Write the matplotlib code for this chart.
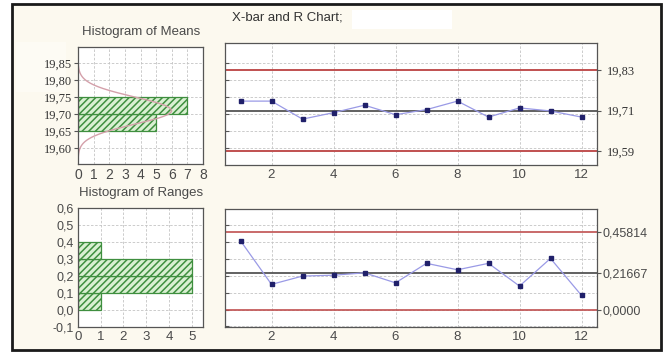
import matplotlib.pyplot as plt
import numpy as np
from matplotlib.patches import Rectangle

# samples (subgroups)
samples = np.arange(1, 13)
xbar = [19.738, 19.738, 19.685, 19.704, 19.726, 19.698, 19.713, 19.738, 19.691, 19.718, 19.709, 19.691]
ranges = [0.405, 0.148, 0.197, 0.202, 0.216, 0.157, 0.272, 0.234, 0.272, 0.138, 0.301, 0.083]

# control limits
xbar_lcl, xbar_cl, xbar_ucl = 19.59, 19.71, 19.83
r_lcl, r_cl, r_ucl = 0.0, 0.21667, 0.45814

# histogram of means (bin edges, counts)
mean_bins = [19.65, 19.70, 19.75]
mean_counts = [5, 7]
# fitted normal curve for means
curve_mu, curve_sigma = 19.71, 0.04

# histogram of ranges
range_bins = [0.0, 0.1, 0.2, 0.3, 0.4]
range_counts = [1, 5, 5, 1]

cream = '#fcf9ef'
gray_txt = '#4a4a4a'
grid_kw = dict(color='#c4c4c4', linestyle=(0, (3, 2)), linewidth=0.6)
bar_kw = dict(facecolor='#d9f0d2', edgecolor='#3f8f3f', hatch='/////', linewidth=0.9)
red = '#c05050'
plt.rcParams['hatch.linewidth'] = 1.1

W, H = 667, 353
fig = plt.figure(figsize=(6.67, 3.53), dpi=100, facecolor='white')


def fbox(x0, y0, x1, y1):
    # pixel box -> figure fraction [left, bottom, width, height]
    return [x0 / W, 1 - y1 / H, (x1 - x0) / W, (y1 - y0) / H]


# outer frame
fig.patches.append(Rectangle((12 / W, 1 - 350 / H), 649 / W, 346 / H, transform=fig.transFigure,
                             facecolor=cream, edgecolor='#1a1a1a', linewidth=2, zorder=-2))
# whited-out blobs
fig.patches.append(Rectangle((352 / W, 1 - 29 / H), 100 / W, 19 / H, transform=fig.transFigure,
                             facecolor='white', edgecolor='none', zorder=-1))
fig.patches.append(Rectangle((16 / W, 1 - 92 / H), 50 / W, 50 / H, transform=fig.transFigure,
                             facecolor='white', edgecolor='none', alpha=0.35, zorder=-1))

serif = ['Liberation Serif', 'DejaVu Serif']
sans = ['Liberation Sans', 'DejaVu Sans']


def style(ax):
    ax.set_facecolor('white')
    for s in ax.spines.values():
        s.set_color('#555555')
        s.set_linewidth(0.9)
    ax.grid(True, **grid_kw)
    ax.set_axisbelow(True)


# ---- Histogram of means
ax1 = fig.add_axes(fbox(78, 47, 203, 164))
style(ax1)
ax1.barh(mean_bins[:-1], mean_counts, height=np.diff(mean_bins), align='edge', **bar_kw)
yy = np.linspace(19.553, 19.86, 300)
dens = len(xbar) * 0.05 * np.exp(-(yy - curve_mu) ** 2 / (2 * curve_sigma ** 2)) / (curve_sigma * np.sqrt(2 * np.pi))
ax1.plot(dens, yy, color='#d4a0aa', linewidth=1.0)
ax1.set_xlim(0, 8)
ax1.set_ylim(19.553, 19.897)
ax1.set_xticks(range(9))
ax1.set_yticks([19.60, 19.65, 19.70, 19.75, 19.80, 19.85])
ax1.set_yticklabels(['19,60', '19,65', '19,70', '19,75', '19,80', '19,85'], family=serif, fontsize=9, color='#333333')
ax1.set_xticklabels([str(i) for i in range(9)], family=sans, fontsize=10, color=gray_txt)
ax1.tick_params(axis='y', length=3, pad=1, color='#555555')
ax1.tick_params(axis='x', length=0, pad=3)
fig.text(141 / W, 1 - 32 / H, 'Histogram of Means', ha='center', va='center', family=sans, fontsize=9.5, color=gray_txt)

# ---- X-bar chart
ax2 = fig.add_axes(fbox(225, 43, 597, 165))
style(ax2)
ax2.axhline(xbar_ucl, color=red, linewidth=1.4)
ax2.axhline(xbar_lcl, color=red, linewidth=1.4)
ax2.axhline(xbar_cl, color='#555555', linewidth=1.3)
ax2.plot(samples, xbar, color='#9a9ae6', linewidth=0.9, marker='s', markersize=2.2,
         markerfacecolor='#20206a', markeredgecolor='#20206a')
ax2.set_xlim(0.5, 12.5)
ax2.set_ylim(19.55, 19.909)
ax2.set_xticks(range(2, 13, 2))
ax2.set_xticklabels([str(i) for i in range(2, 13, 2)], family=sans, fontsize=9.5, color=gray_txt)
ax2.set_yticks([19.60, 19.65, 19.70, 19.75, 19.80, 19.85])
ax2.tick_params(axis='y', direction='in', length=3, labelleft=False, color='#555555')
ax2.tick_params(axis='x', length=0, pad=3)
ax2r = ax2.twinx()
ax2r.set_ylim(ax2.get_ylim())
ax2r.set_yticks([xbar_lcl, xbar_cl, xbar_ucl])
ax2r.set_yticklabels(['19,59', '19,71', '19,83'], family=serif, fontsize=9, color='#333333')
ax2r.tick_params(axis='y', length=3, pad=4, color='#555555')
for s in ax2r.spines.values():
    s.set_visible(False)
fig.text(232 / W, 1 - 18 / H, 'X-bar and R Chart;', ha='left', va='center', family=sans, fontsize=9.5, color='#333333')

# ---- Histogram of ranges
ax3 = fig.add_axes(fbox(78, 208, 203, 327))
style(ax3)
ax3.barh(range_bins[:-1], range_counts, height=np.diff(range_bins), align='edge', **bar_kw)
ax3.set_xlim(0, 5.5)
ax3.set_ylim(-0.1, 0.6)
ax3.set_xticks(range(6))
ax3.set_xticklabels([str(i) for i in range(6)], family=sans, fontsize=9.5, color=gray_txt)
ax3.set_yticks(np.arange(-0.1, 0.61, 0.1))
ax3.set_yticklabels(['-0,1', '0,0', '0,1', '0,2', '0,3', '0,4', '0,5', '0,6'], family=sans, fontsize=9, color=gray_txt)
ax3.tick_params(axis='y', length=0, pad=3)
ax3.tick_params(axis='x', length=0, pad=3)
fig.text(141 / W, 1 - 193 / H, 'Histogram of Ranges', ha='center', va='center', family=sans, fontsize=9.5, color=gray_txt)

# ---- R chart
ax4 = fig.add_axes(fbox(225, 209, 597, 327))
style(ax4)
ax4.axhline(r_ucl, color=red, linewidth=1.2)
ax4.axhline(r_lcl, color=red, linewidth=1.2)
ax4.axhline(r_cl, color='#555555', linewidth=1.3)
ax4.plot(samples, ranges, color='#9a9ae6', linewidth=0.9, marker='s', markersize=2.2,
         markerfacecolor='#20206a', markeredgecolor='#20206a')
ax4.set_xlim(0.5, 12.5)
ax4.set_ylim(-0.103, 0.592)
ax4.set_xticks(range(2, 13, 2))
ax4.set_xticklabels([str(i) for i in range(2, 13, 2)], family=sans, fontsize=9.5, color=gray_txt)
ax4.set_yticks(np.arange(-0.1, 0.51, 0.1))
ax4.tick_params(axis='y', direction='in', length=3, labelleft=False, color='#555555')
ax4.tick_params(axis='x', length=0, pad=3)
ax4r = ax4.twinx()
ax4r.set_ylim(ax4.get_ylim())
ax4r.set_yticks([r_lcl, r_cl, r_ucl])
ax4r.set_yticklabels(['0,0000', '0,21667', '0,45814'], family=sans, fontsize=9, color=gray_txt)
ax4r.tick_params(axis='y', length=3, pad=1, color='#555555')
for s in ax4r.spines.values():
    s.set_visible(False)

fig.savefig('out.png', dpi=100, facecolor='white')
